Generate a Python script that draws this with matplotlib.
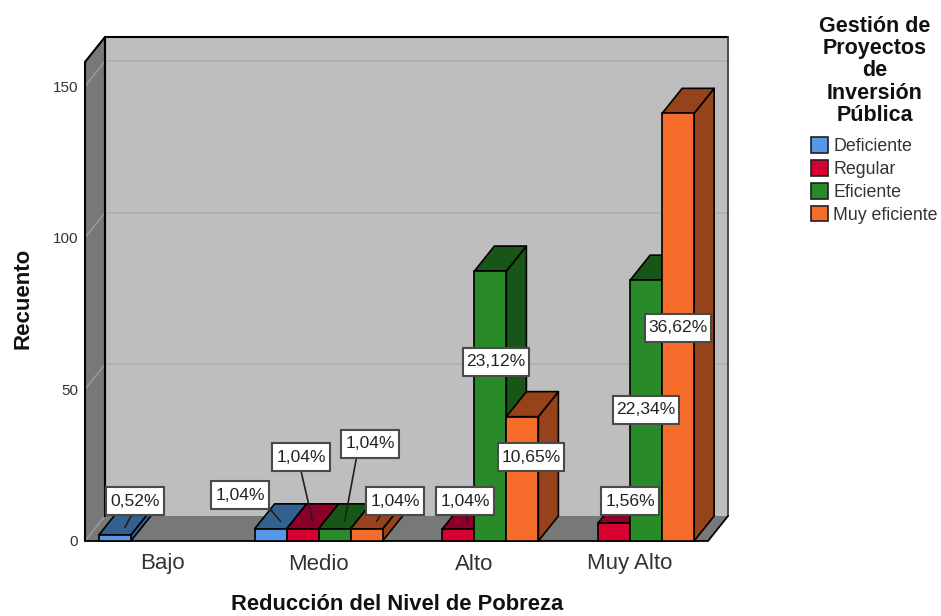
import matplotlib
matplotlib.use("Agg")
import matplotlib.pyplot as plt
from matplotlib.patches import Polygon, Patch
from matplotlib.path import Path

plt.rcParams['font.family'] = ['Liberation Sans', 'DejaVu Sans']

#data
categories = ['Bajo', 'Medio', 'Alto', 'Muy Alto']
series_names = ['Deficiente', 'Regular', 'Eficiente', 'Muy eficiente']
deficiente = [2, 4, 0, 0]
regular = [0, 4, 4, 6]
eficiente = [0, 4, 89, 86]
muy_eficiente = [0, 4, 41, 141]
pct_deficiente = ['0,52%', '1,04%', '', '']
pct_regular = ['', '1,04%', '1,04%', '1,56%']
pct_eficiente = ['', '1,04%', '23,12%', '22,34%']
pct_muy_eficiente = ['', '1,04%', '10,65%', '36,62%']
y_ticks = [0, 50, 100, 150]
legend_title = 'Gestión de\nProyectos\nde\nInversión\nPública'

#styles
front_colors = ['#5596E6', '#D7002E', '#298A2A', '#F56C2B']
top_colors = ['#32608F', '#8A0028', '#185618', '#96421A']
side_colors = ['#32608F', '#8A0028', '#185618', '#96421A']
wall_color = '#BEBEBE'
floor_color = '#787878'

#where the label boxes sit, figure pixels from top left, (series, category): (x, y, start of leader on the box)
label_boxes = {
    (0, 0): (135, 501, (0.5, 0)),
    (0, 1): (240, 495, (1, 0)),
    (1, 1): (301, 457, (0.47, 0)),
    (2, 1): (370, 444, (0.25, 0)),
    (3, 1): (395, 501, (0.3, 0)),
    (1, 2): (465, 501, (0.45, 0)),
    (2, 2): (496, 362, None),
    (3, 2): (531, 457, None),
    (1, 3): (630, 501, (0.4, 0)),
    (2, 3): (646, 410, None),
    (3, 3): (678, 328, None),
}

W, H = 941, 616
fig = plt.figure(figsize=(W / 100, H / 100), dpi=100)
fig.patch.set_facecolor('white')
ax = fig.add_axes([85 / W, (H - 541) / H, 623 / W, 479 / H])
ax.patch.set_visible(False)
ymax = 479 / 3.033
ax.set_xlim(-0.5, 3.5)
ax.set_ylim(0, ymax)
for s in ax.spines.values():
    s.set_visible(False)

dx = 20 / 155.75  #depth of the fake 3d, in data units
dy = 25 / 3.033
bar_w = 32 / 155.75


def face(pts, color, z, ec='black', lw=1.2):
    ax.add_patch(Polygon(pts, closed=True, fc=color, ec=ec, lw=lw, zorder=z, clip_on=False, joinstyle='round'))


def edge(xs, ys, color='black', lw=1.5, z=2.8):
    ax.plot(xs, ys, color=color, lw=lw, zorder=z, clip_on=False, solid_capstyle='round')


def label_box(x0, y0, width, height, mutation_size):
    #label boxes are taller than a uniform pad gives
    px = 0.22 * mutation_size
    py = 0.38 * mutation_size
    x0, x1 = x0 - px, x0 + width + px
    y0, y1 = y0 - py, y0 + height + py
    return Path([(x0, y0), (x1, y0), (x1, y1), (x0, y1), (x0, y0)], closed=True)


#walls and floor
x0, x1 = -0.5, 3.5
face([(x0 + dx, dy), (x1 + dx, dy), (x1 + dx, ymax + dy), (x0 + dx, ymax + dy)], wall_color, 1, ec='none', lw=0)
face([(x0, 0), (x0 + dx, dy), (x0 + dx, ymax + dy), (x0, ymax)], floor_color, 2, ec='none', lw=0)
face([(x0, 0), (x1, 0), (x1 + dx, dy), (x0 + dx, dy)], floor_color, 2, ec='none', lw=0)

#gridlines, back wall then the diagonal on the left wall
for t in y_ticks[1:]:
    ax.plot([x0 + dx, x1 + dx], [t + dy, t + dy], color='#AEAEAE', lw=1.1, zorder=1.5, clip_on=False)
for t in y_ticks:
    ax.plot([x0, x0 + dx], [t, t + dy], color='#9A9A9A', lw=1.1, zorder=2.5, clip_on=False)

#outlines of the box
edge([x0, x0, x0 + dx, x0 + dx, x0 + dx], [0, ymax, ymax + dy, dy, ymax + dy])
edge([x0 + dx, x1 + dx], [ymax + dy, ymax + dy])
edge([x1 + dx, x1 + dx], [ymax + dy, dy], color='#404040', lw=1.3)
edge([x0, x1, x1 + dx], [0, 0, dy], lw=1.3)

#bars, left to right so that each front hides the side of the one before
all_values = [deficiente, regular, eficiente, muy_eficiente]
all_pcts = [pct_deficiente, pct_regular, pct_eficiente, pct_muy_eficiente]
z = 3
for c in range(len(categories)):
    for k in range(len(series_names)):
        h = all_values[k][c]
        if h == 0:
            continue
        left = c + (k - 2) * bar_w
        right = left + bar_w
        face([(right, 0), (right + dx, dy), (right + dx, h + dy), (right, h)], side_colors[k], z)
        face([(left, h), (right, h), (right + dx, h + dy), (left + dx, h + dy)], top_colors[k], z)
        ax.bar(left, h, bar_w, align='edge', color=front_colors[k], edgecolor='black', linewidth=1.2, zorder=z + 0.1,
               clip_on=False)
        z += 0.2

#percentage boxes
box = dict(boxstyle=label_box, fc='white', ec='#4A4A4A', lw=1.5)
for (k, c), (px, py, start) in label_boxes.items():
    left = c + (k - 2) * bar_w
    target = (left + bar_w / 2 + dx / 2, all_values[k][c] + dy * 0.3)
    arrow = None
    if start is not None:
        arrow = dict(arrowstyle='-', color='#202020', lw=1.2, shrinkA=0, shrinkB=0, relpos=start)
    ax.annotate(all_pcts[k][c], xy=target, xycoords='data', xytext=(px, H - py), textcoords='figure pixels',
                ha='center', va='center', fontsize=12.6, color='#222222', bbox=box, arrowprops=arrow,
                zorder=50, annotation_clip=False)

#axes text
ax.set_xticks(range(len(categories)))
ax.set_xticklabels(categories, fontsize=16, color='#333333')
ax.set_yticks(y_ticks)
ax.tick_params(axis='x', length=0, pad=9)
ax.tick_params(axis='y', length=0, pad=5, labelsize=11, labelcolor='#333333')
ax.set_xlabel('Reducción del Nivel de Pobreza', fontsize=15.8, fontweight='bold', color='#111111', va='center')
ax.xaxis.set_label_coords((397 - 85) / 623, (541 - 605) / 479)
ax.set_ylabel('Recuento', fontsize=16, fontweight='bold', color='#111111', va='center')
ax.yaxis.set_label_coords((23 - 85) / 623, (541 - 298) / 479)

#legend
fig.text(875 / W, 1 - 71 / H, legend_title, ha='center', va='center', fontsize=15.5, fontweight='bold',
         color='#111111', linespacing=1.09)
handles = [Patch(facecolor=front_colors[i], edgecolor='#202020', linewidth=1.2, label=series_names[i]) for i in range(4)]
fig.legend(handles=handles, loc='upper left', bbox_to_anchor=(811 / W, 1 - 137 / H), frameon=False, fontsize=12.8,
           handlelength=0.96, handleheight=1.0, labelspacing=0.27, handletextpad=0.28, borderpad=0, borderaxespad=0,
           labelcolor='#333333')

fig.savefig('out.png', dpi=100)
